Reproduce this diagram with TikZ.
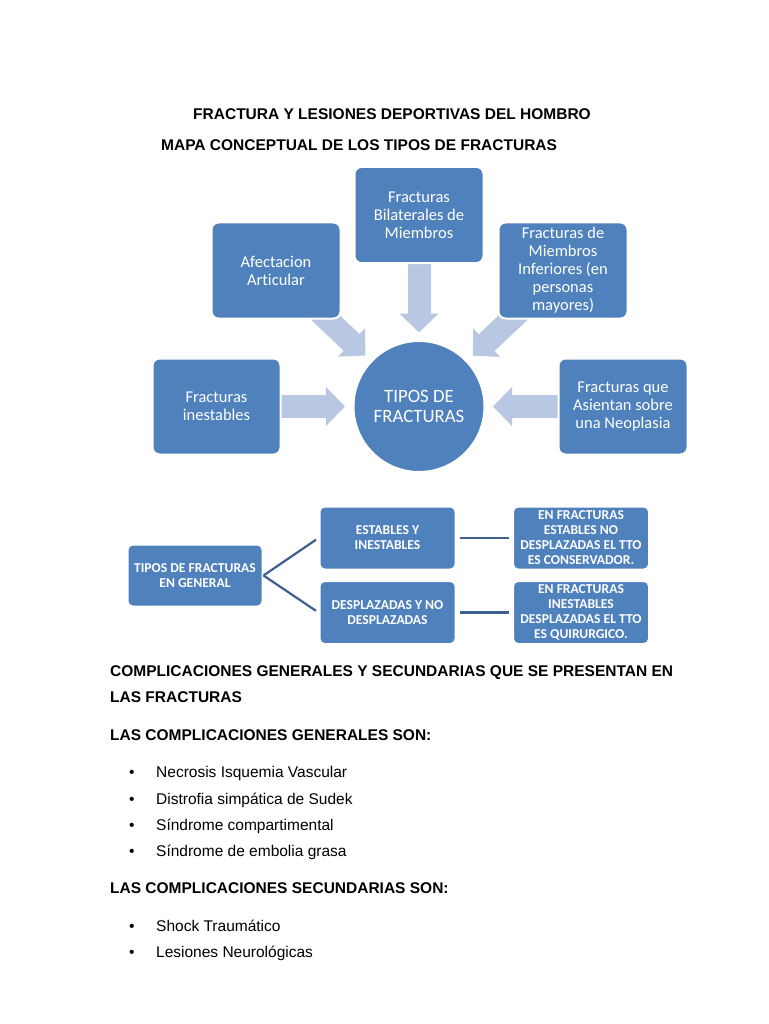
\documentclass[tikz,border=0pt]{standalone}
\usepackage{fontspec}
\setmainfont{Liberation Sans}
\newfontfamily\calfont[Ligatures=NoCommon]{Carlito}
\usetikzlibrary{arrows.meta}
\definecolor{boxblue}{RGB}{79,129,189}
\definecolor{arrowblue}{RGB}{184,199,226}
\definecolor{lineblue}{RGB}{62,96,145}
\pgfdeclarelayer{background}
\pgfsetlayers{background,main}
\tikzset{
  bluebox/.style={fill=boxblue, draw=white, line width=2, rounded corners=7, text=white,
    align=center, font=\calfont\fontsize{16.5}{18}\selectfont,
    minimum width=129, minimum height=96, inner sep=1},
  smallbox/.style={bluebox, rounded corners=5, font=\calfont\bfseries\fontsize{13.6}{15}\selectfont,
    minimum width=136, minimum height=63},
  bigarrow/.style={arrowblue, line width=23, -{Triangle[width=38pt,length=19pt]}, shorten >=74},
  fork/.style={lineblue, line width=2.2},
  head/.style={anchor=base west, inner sep=0, font=\bfseries\fontsize{15.5}{18}\selectfont},
  item/.style={anchor=base west, inner sep=0, font=\fontsize{15.5}{18}\selectfont}
}
\begin{document}
\begin{tikzpicture}[x=1pt, y=-1pt]
  \useasboundingbox (0,0) rectangle (768,1024);
  % titles
  \node[head, anchor=base] (t1) at (392,119.5) {FRACTURA Y LESIONES DEPORTIVAS DEL HOMBRO};
  \node[head] (t2) at (161,150.5) {MAPA CONCEPTUAL DE LOS TIPOS DE FRACTURAS};
  % concept map
  \node[circle, fill=boxblue, draw=white, line width=2, minimum size=131, text=white, align=center,
    font=\calfont\fontsize{18.8}{20}\selectfont] (tipos) at (419,406.5) {TIPOS DE\\FRACTURAS};
  \node[bluebox] (bilat) at (419,215) {Fracturas\\Bilaterales de\\Miembros};
  \node[bluebox] (afect) at (276,270.5) {Afectacion\\Articular};
  \node[bluebox] (infer) at (563,270.5) {Fracturas de\\Miembros\\Inferiores (en\\personas\\mayores)};
  \node[bluebox, minimum width=128] (inest) at (216.5,406.5) {Fracturas\\inestables};
  \node[bluebox] (neop) at (623,406.5) {Fracturas que\\Asientan sobre\\una Neoplasia};
  \begin{pgfonlayer}{background}
    \fill[white] (0,0) rectangle (768,1024);
    \foreach \n in {afect,bilat,infer,inest,neop}
      \draw[bigarrow] (\n.center) -- (tipos.center);
  \end{pgfonlayer}
  % tipos en general
  \node[smallbox, minimum width=135, minimum height=62] (gen) at (195,575.5) {TIPOS DE FRACTURAS\\EN GENERAL};
  \node[smallbox] (esta) at (387.5,538) {ESTABLES Y\\INESTABLES};
  \node[smallbox] (desp) at (387.5,612.5) {DESPLAZADAS Y NO\\DESPLAZADAS};
  \node[smallbox] (cons) at (581,538) {EN FRACTURAS\\ESTABLES NO\\DESPLAZADAS EL TTO\\ES CONSERVADOR.};
  \node[smallbox] (quir) at (581,612.5) {EN FRACTURAS\\INESTABLES\\DESPLAZADAS EL TTO\\ES QUIRURGICO.};
  \draw[fork, shorten >=3] (gen.east) -- (esta.west);
  \draw[fork, shorten >=3] (gen.east) -- (desp.west);
  \draw[fork, shorten <=3, shorten >=3] (esta) -- (cons);
  \draw[fork, shorten <=3, shorten >=3] (desp) -- (quir);
  % complicaciones
  \node[head] (c1) at (110,676.5) {COMPLICACIONES GENERALES Y SECUNDARIAS QUE SE PRESENTAN EN};
  \node[head] (c2) at (110,702.5) {LAS FRACTURAS};
  \node[head] (g0) at (110,740.5) {LAS COMPLICACIONES GENERALES SON:};
  \foreach \y/\txt in {777/Necrosis Isquemia Vascular, 804/Distrofia simpática de Sudek,
      830/Síndrome compartimental, 856/Síndrome de embolia grasa,
      931/Shock Traumático, 957/Lesiones Neurológicas} {
    \node[item] at (129,\y) {\textbullet};
    \node[item] at (156,\y) {\txt};
  }
  \node[head] (s0) at (110,893.5) {LAS COMPLICACIONES SECUNDARIAS SON:};
\end{tikzpicture}
\end{document}
